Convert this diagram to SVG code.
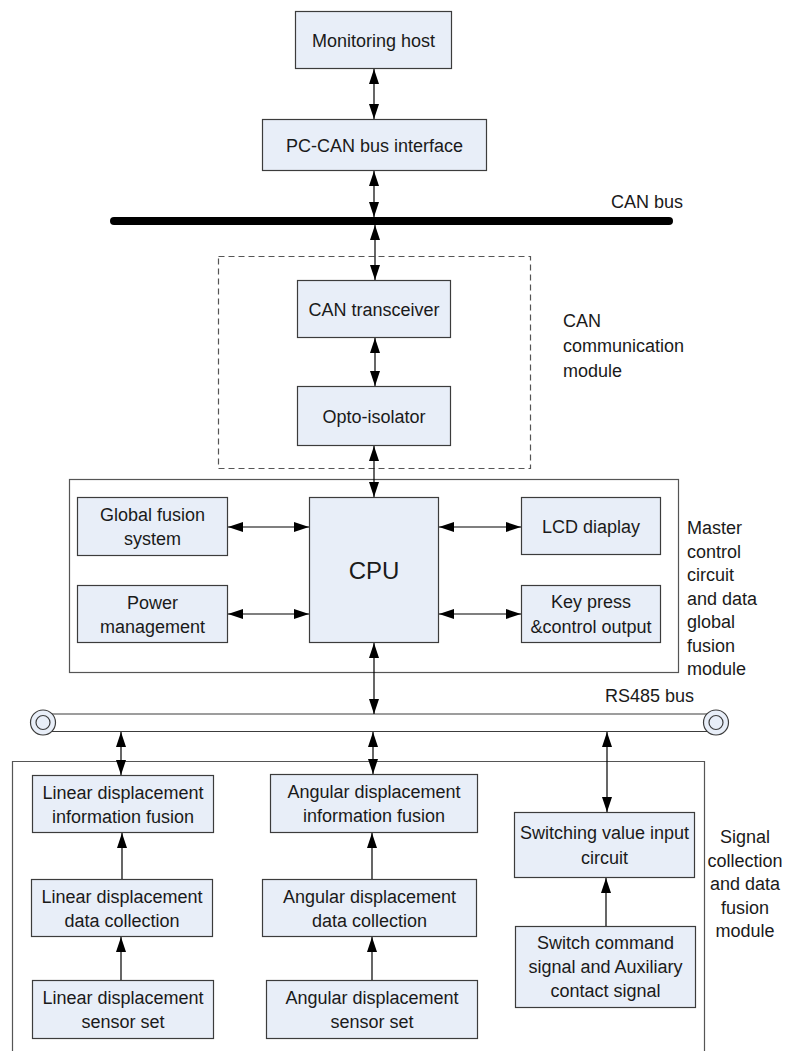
<svg xmlns="http://www.w3.org/2000/svg" width="787" height="1051" viewBox="0 0 787 1051">
<style>
.box{fill:#e8eef8;stroke:#3c3c3c;stroke-width:1.2}
.frame{fill:none;stroke:#555;stroke-width:1.2}
.dash{fill:none;stroke:#555;stroke-width:1.2;stroke-dasharray:6 4}
text{font-family:"Liberation Sans",Arial,sans-serif;font-size:18px;fill:#1a1a1a}
.c{text-anchor:middle}
.big{font-size:24px}
.con{stroke:#000;stroke-width:1.2;fill:none}
.bi{marker-start:url(#ah);marker-end:url(#ah)}
.one{marker-end:url(#ah)}
.busc{fill:#e8eef8;stroke:#3c3c3c;stroke-width:1.2}
</style>
<defs>
<marker id="ah" viewBox="0 0 15 10" refX="15" refY="5" markerWidth="15" markerHeight="10" markerUnits="userSpaceOnUse" orient="auto-start-reverse">
<path d="M0,0 L15,5 L0,10 z" fill="#000"/>
</marker>
</defs>

<!-- containers -->
<g id="can-module">
<rect class="dash" x="218.5" y="256.5" width="312" height="212"/>
<text x="563" y="327">CAN</text>
<text x="563" y="352">communication</text>
<text x="563" y="377">module</text>
</g>
<g id="master-module">
<rect class="frame" x="69.5" y="479.5" width="609" height="193"/>
<text x="687" y="534">Master</text>
<text x="687" y="557.5">control</text>
<text x="687" y="581">circuit</text>
<text x="687" y="604.5">and data</text>
<text x="687" y="628">global</text>
<text x="687" y="651.5">fusion</text>
<text x="687" y="675">module</text>
</g>
<g id="signal-module">
<path class="frame" d="M12.5,1060 V761.5 H704.5 V1060"/>
<text class="c" x="745" y="843">Signal</text>
<text class="c" x="745" y="866.5">collection</text>
<text class="c" x="745" y="890">and data</text>
<text class="c" x="745" y="913.5">fusion</text>
<text class="c" x="745" y="937">module</text>
</g>

<!-- buses -->
<g id="can-bus">
<line x1="114" y1="221" x2="669" y2="221" stroke="#000" stroke-width="8" stroke-linecap="round"/>
<text x="611" y="208">CAN bus</text>
</g>
<g id="rs485-bus">
<rect x="43" y="714" width="673" height="17.5" fill="#fff" stroke="none"/>
<line x1="43" y1="714" x2="716" y2="714" stroke="#3c3c3c" stroke-width="1.2"/>
<line x1="43" y1="731.5" x2="716" y2="731.5" stroke="#3c3c3c" stroke-width="1.2"/>
<circle class="busc" cx="43" cy="722.5" r="12.5"/>
<circle class="busc" cx="43" cy="722.5" r="7"/>
<circle class="busc" cx="716" cy="722.5" r="12.5"/>
<circle class="busc" cx="716" cy="722.5" r="7"/>
<text x="605" y="702">RS485 bus</text>
</g>

<!-- nodes -->
<g id="monitoring-host">
<rect class="box" x="295.5" y="11.5" width="156" height="57"/>
<text class="c" x="373.5" y="46.5">Monitoring host</text>
</g>
<g id="pc-can">
<rect class="box" x="262.5" y="119.5" width="224" height="51"/>
<text class="c" x="374.5" y="151.5">PC-CAN bus interface</text>
</g>
<g id="can-transceiver">
<rect class="box" x="297.5" y="280.5" width="153" height="57"/>
<text class="c" x="374" y="315.5">CAN transceiver</text>
</g>
<g id="opto-isolator">
<rect class="box" x="297.5" y="386.5" width="153" height="59"/>
<text class="c" x="374" y="422.5">Opto-isolator</text>
</g>
<g id="global-fusion">
<rect class="box" x="77.5" y="497.5" width="150" height="58"/>
<text class="c" x="152.5" y="520.5">Global fusion</text>
<text class="c" x="152.5" y="544.5">system</text>
</g>
<g id="power-management">
<rect class="box" x="77.5" y="585.5" width="150" height="57"/>
<text class="c" x="152.5" y="608.5">Power</text>
<text class="c" x="152.5" y="632.5">management</text>
</g>
<g id="cpu">
<rect class="box" x="309.5" y="497.5" width="129" height="145"/>
<text class="c big" x="374" y="578.5">CPU</text>
</g>
<g id="lcd">
<rect class="box" x="521.5" y="497.5" width="139" height="57"/>
<text class="c" x="591" y="533">LCD diaplay</text>
</g>
<g id="key-press">
<rect class="box" x="521.5" y="585.5" width="139" height="57"/>
<text class="c" x="591" y="608">Key press</text>
<text class="c" x="591" y="632.5">&amp;control output</text>
</g>
<g id="linear-fusion">
<rect class="box" x="32.5" y="775.5" width="181" height="57"/>
<text class="c" x="123" y="798.5">Linear displacement</text>
<text class="c" x="123" y="822.5">information fusion</text>
</g>
<g id="linear-collection">
<rect class="box" x="31.5" y="879.5" width="181" height="57"/>
<text class="c" x="122" y="902.5">Linear displacement</text>
<text class="c" x="122" y="926.5">data collection</text>
</g>
<g id="linear-sensor">
<rect class="box" x="32.5" y="980.5" width="181" height="58"/>
<text class="c" x="123" y="1004">Linear displacement</text>
<text class="c" x="123" y="1028">sensor set</text>
</g>
<g id="angular-fusion">
<rect class="box" x="270.5" y="774.5" width="207" height="58"/>
<text class="c" x="374" y="798">Angular displacement</text>
<text class="c" x="374" y="822">information fusion</text>
</g>
<g id="angular-collection">
<rect class="box" x="262.5" y="879.5" width="214" height="57"/>
<text class="c" x="369.5" y="902.5">Angular displacement</text>
<text class="c" x="369.5" y="926.5">data collection</text>
</g>
<g id="angular-sensor">
<rect class="box" x="266.5" y="980.5" width="211" height="58"/>
<text class="c" x="372" y="1004">Angular displacement</text>
<text class="c" x="372" y="1028">sensor set</text>
</g>
<g id="switching-input">
<rect class="box" x="514.5" y="812.5" width="180" height="65"/>
<text class="c" x="604.5" y="839">Switching value input</text>
<text class="c" x="604.5" y="863.5">circuit</text>
</g>
<g id="switch-command">
<rect class="box" x="515.5" y="926.5" width="180" height="81"/>
<text class="c" x="605.5" y="949">Switch command</text>
<text class="c" x="605.5" y="973">signal and Auxiliary</text>
<text class="c" x="605.5" y="997">contact signal</text>
</g>

<!-- connectors -->
<g id="connectors">
<line class="con bi" x1="374" y1="69" x2="374" y2="119"/>
<line class="con bi" x1="374" y1="171" x2="374" y2="217"/>
<line class="con bi" x1="375" y1="225" x2="375" y2="280"/>
<line class="con bi" x1="375" y1="338" x2="375" y2="386"/>
<line class="con bi" x1="374" y1="446" x2="374" y2="497"/>
<line class="con bi" x1="228" y1="527" x2="309" y2="527"/>
<line class="con bi" x1="228" y1="614" x2="309" y2="614"/>
<line class="con bi" x1="439" y1="527" x2="521" y2="527"/>
<line class="con bi" x1="439" y1="614" x2="521" y2="614"/>
<line class="con bi" x1="374" y1="643" x2="374" y2="714"/>
<line class="con bi" x1="121" y1="732" x2="121" y2="775"/>
<line class="con bi" x1="373" y1="732" x2="373" y2="774"/>
<line class="con bi" x1="607" y1="732" x2="607" y2="812"/>
<line class="con one" x1="122" y1="879" x2="122" y2="833"/>
<line class="con one" x1="121" y1="980" x2="121" y2="937"/>
<line class="con one" x1="372" y1="879" x2="372" y2="833"/>
<line class="con one" x1="372" y1="980" x2="372" y2="937"/>
<line class="con one" x1="606" y1="926" x2="606" y2="878"/>
</g>
</svg>
